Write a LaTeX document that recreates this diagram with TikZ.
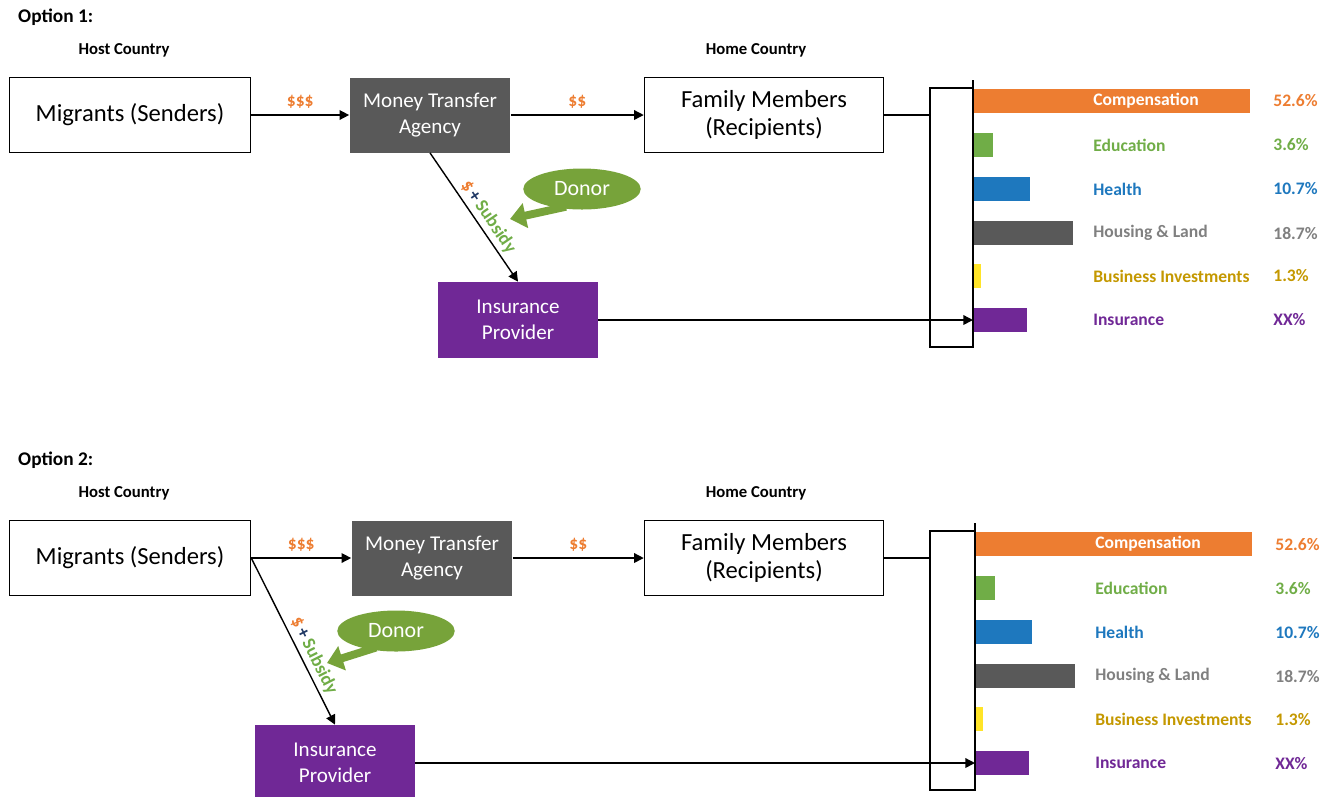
\documentclass[tikz,border=0pt]{standalone}
\usepackage{fontspec}
\setmainfont{Carlito}
\usetikzlibrary{arrows.meta,shapes.geometric}

\definecolor{remitorange}{RGB}{237,125,49}
\definecolor{remitgreen}{RGB}{112,173,71}
\definecolor{remitblue}{RGB}{30,120,190}
\definecolor{remitgray}{RGB}{89,89,89}
\definecolor{housinggray}{RGB}{128,128,128}
\definecolor{bizyellow}{RGB}{255,228,40}
\definecolor{bizgold}{RGB}{196,152,0}
\definecolor{insurancepurple}{RGB}{112,40,150}
\definecolor{donorgreen}{RGB}{119,163,58}
\definecolor{plusnavy}{RGB}{31,56,100}

\tikzset{
  whitebox/.style={draw=black,line width=0.9pt,fill=white,minimum height=1.5cm,align=center,font=\fontsize{14}{16}\selectfont},
  graybox/.style={fill=remitgray,text=white,minimum width=3.22cm,minimum height=1.5cm,align=center,font=\fontsize{12}{14.5}\selectfont},
  purplebox/.style={fill=insurancepurple,text=white,minimum width=3.2cm,minimum height=1.52cm,align=center,font=\fontsize{12}{14.5}\selectfont},
  flow/.style={line width=0.8pt,-{Triangle[width=5.5pt,length=5.5pt]}},
  money/.style={font=\bfseries\fontsize{10}{12}\selectfont,text=remitorange},
  header/.style={font=\bfseries\fontsize{9.5}{11}\selectfont},
  donorbubble/.style={ellipse,fill=donorgreen,text=white,minimum width=2.35cm,minimum height=0.82cm,inner sep=0pt,font=\fontsize{12.5}{14}\selectfont},
  donorpush/.style={donorgreen,line width=4.5pt,shorten <=-4pt,-{Triangle[width=14pt,length=9pt]}},
  barlabel/.style={anchor=west,inner sep=0pt,font=\bfseries\fontsize{10}{12}\selectfont},
  subsidy/.style={sloped,above,inner sep=2pt,font=\bfseries\fontsize{10.5}{12}\selectfont},
}

\begin{document}
\begin{tikzpicture}[x=0.02cm,y=-0.02cm]
\useasboundingbox (0,0) rectangle (1331,796);
\clip (0,0) rectangle (1331,796);

\foreach \n/\dy/\dx in {1/0/0,2/443/2}{
\node[anchor=west,font=\bfseries\fontsize{11}{13}\selectfont] (opt\n) at (12,17+\dy) {Option \n:};
\node[header] (host\n) at (124,50+\dy) {Host Country};
\node[header] (home\n) at (756,50+\dy) {Home Country};
\node[whitebox,minimum width=4.82cm] (mig\n) at (130,115+\dy) {Migrants (Senders)};
\node[graybox] (mta\n) at (430+\dx,115+\dy) {Money Transfer\\Agency};
\node[whitebox,minimum width=4.78cm] (fam\n) at (764,115+\dy) {Family Members\\(Recipients)};
\draw[flow] (mig\n) -- node[money,above] (three\n) {\$\$\$} (mta\n);
\draw[flow] (mta\n) -- node[money,above] (two\n) {\$\$} (fam\n);
% bracket and axis of the chart
\coordinate (axtop\n) at (973+\dx,80+\dy);
\coordinate (axbot\n) at (973+\dx,348+\dy);
\coordinate (brk\n) at (930,115+\dy);
\draw[line width=0.9pt] (axtop\n) -- (axbot\n);
\draw[line width=0.9pt] (fam\n.east) -- (brk\n);
\draw[line width=0.9pt] (973+\dx,88+\dy) -| (930,347+\dy) -- (973+\dx,347+\dy);
\foreach \yc/\len/\barc/\txtc/\pctc/\lab/\pct in {
  101/276/remitorange/white/remitorange/Compensation/52.6\%,
  145/19/remitgreen/remitgreen/remitgreen/Education/3.6\%,
  189/56/remitblue/remitblue/remitblue/Health/10.7\%,
  233/99/remitgray/housinggray/housinggray/Housing \& Land/18.7\%,
  276/7/bizyellow/bizgold/bizgold/Business Investments/1.3\%,
  320/53/insurancepurple/insurancepurple/insurancepurple/Insurance/XX\%}{
  \fill[\barc] (974+\dx,\yc+\dy-12) rectangle ++(\len,24);
  \node[barlabel,text=\txtc] (lab\n\yc) at (1093+\dx,\yc+\dy) {\lab};
  \node[barlabel,text=\pctc] (pct\n\yc) at (1273+\dx,\yc+\dy) {\pct};
}
}

% option 1
\node[purplebox] (ip1) at (518,320) {Insurance\\Provider};
\draw[flow] (mta1.south) -- node[subsidy,pos=0.55] (sub1) {\textcolor{remitorange}{\$}\,\textcolor{plusnavy}{+}\,\textcolor{remitgreen}{Subsidy}} (ip1.north);
\draw[flow] (ip1.east) -- (ip1.east -| axtop1);
\node[donorbubble] (donor1) at (582,189) {Donor};
\coordinate (dtip1) at (510,219);
\draw[donorpush] (donor1.220) -- (dtip1);

% option 2
\node[purplebox] (ip2) at (335,763) {Insurance\\Provider};
\draw[flow] (mig2.east) -- node[subsidy,pos=0.62] (sub2) {\textcolor{remitorange}{\$}\,\textcolor{plusnavy}{+}\,\textcolor{remitgreen}{Subsidy}} (ip2.north);
\draw[flow] (ip2.east) -- (ip2.east -| axtop2);
\node[donorbubble] (donor2) at (396,631) {Donor};
\coordinate (dtip2) at (327,663);
\draw[donorpush] (donor2.215) -- (dtip2);
\end{tikzpicture}
\end{document}
